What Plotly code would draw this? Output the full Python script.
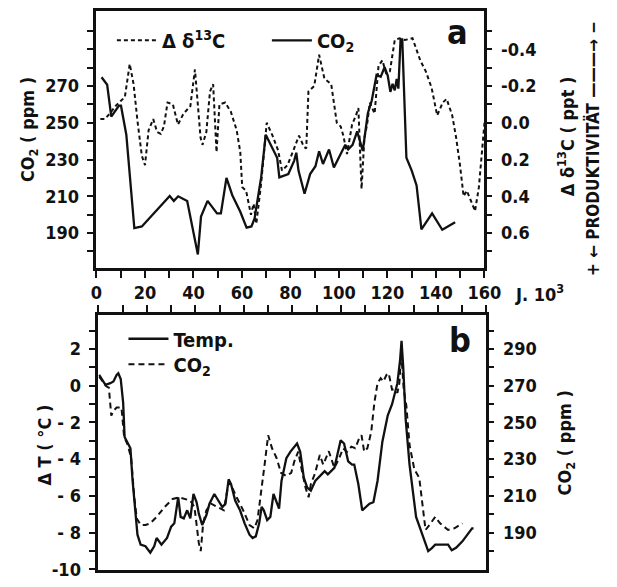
import plotly.graph_objects as go

W, H = 617, 587

# ---------------- Panel a data ----------------
co2_a_age = [2.1, 4.4, 6.1, 6.9, 9.3, 10.1, 12.3, 15.6, 18.7, 30.2, 31.9, 33.7, 37.4, 41.8, 43.1,
             45.8, 49.7, 51.3, 53.6, 56.0, 59.3, 61.9, 63.9, 65.2, 67.9, 69.8, 72.5, 74.5, 75.4,
             79.1, 81.5, 82.4, 83.3, 85.8, 88.1, 90.3, 91.8, 93.4, 95.9, 97.9, 102.6, 103.8,
             105.6, 107.5, 109.8, 111.9, 113.5, 115.5, 117.2, 118.8, 120.1, 121.2, 122.1, 123.0,
             123.8, 124.5, 125.4, 126.1, 127.8, 130.0, 132.0, 134.0, 138.4, 142.6, 147.9]
co2_a_ppm = [274.8, 270.7, 253.4, 255.0, 259.3, 259.3, 243.5, 192.7, 193.6, 210.2, 207.5, 210.0,
             207.5, 178.4, 199.0, 207.5, 200.7, 200.7, 220.0, 210.6, 201.6, 193.0, 193.6, 198.0,
             220.3, 243.5, 236.4, 231.0, 220.3, 222.1, 229.3, 233.7, 224.0, 211.4, 222.1, 226.4,
             234.5, 227.6, 235.5, 225.7, 238.0, 235.5, 238.0, 245.3, 234.7, 255.2, 262.0, 276.0,
             275.0, 280.2, 275.7, 266.8, 271.2, 267.6, 273.9, 268.6, 295.3, 295.3, 231.0, 224.0,
             215.9, 192.0, 200.7, 191.8, 195.9]

d13c_age = [1.6, 3.4, 5.5, 7.8, 10.1, 11.7, 13.7, 15.3, 16.9, 18.7, 20.0, 21.5, 23.4, 25.0, 26.5,
            27.8, 29.3, 31.5, 33.6, 35.9, 38.7, 39.8, 40.6, 42.9, 43.7, 45.3, 46.8, 48.1, 49.5,
            50.7, 53.1, 55.4, 57.8, 59.3, 60.1, 61.7, 63.7, 64.8, 65.9, 67.9, 70.2, 72.6, 74.9,
            76.5, 78.8, 81.2, 83.5, 85.5, 86.5, 87.4, 89.8, 91.8, 94.0, 96.8, 99.1, 100.7, 101.8,
            103.3, 105.4, 107.0, 108.0, 109.3, 110.5, 111.6, 112.7, 114.7, 116.3, 117.9, 119.4,
            121.0, 123.0, 124.9, 127.2, 130.3, 133.5, 135.8, 138.2, 140.5, 142.8, 144.4, 146.7,
            148.3, 149.9, 151.4, 152.7, 154.9, 156.1, 157.7, 160.0]
d13c_val = [-0.02, -0.02, -0.05, -0.09, -0.12, -0.14, -0.32, -0.21, -0.01, 0.18, 0.23, 0.04, -0.02,
            0.05, 0.06, 0.02, -0.11, -0.10, 0.01, -0.05, -0.09, -0.20, -0.29, 0.08, 0.12, 0.05,
            -0.17, -0.21, 0.16, -0.10, -0.11, -0.06, 0.04, 0.16, 0.35, 0.37, 0.50, 0.44, 0.55,
            0.33, 0.00, 0.07, 0.15, 0.26, 0.23, 0.15, 0.07, 0.13, 0.14, -0.17, -0.20, -0.37,
            -0.24, -0.21, 0.00, 0.02, 0.07, 0.17, 0.01, -0.04, -0.08, 0.36, 0.08, 0.01, -0.11,
            -0.05, -0.31, -0.34, -0.27, -0.28, -0.45, -0.46, -0.45, -0.46, -0.34, -0.28, -0.19,
            -0.04, -0.11, -0.13, -0.04, 0.08, 0.23, 0.40, 0.37, 0.44, 0.48, 0.35, 0.00]

# ---------------- Panel b data ----------------
temp_age = [0.3, 2.9, 4.9, 6.2, 7.5, 8.2, 9.2, 10.2, 10.8, 12.1, 13.2, 14.1, 15.0, 16.1, 17.4,
            19.4, 21.4, 23.0, 24.0, 25.1, 26.0, 28.3, 30.0, 31.3, 32.3, 32.9, 33.9, 35.2, 36.6,
            37.9, 39.2, 40.5, 41.4, 42.8, 44.5, 45.8, 47.8, 49.1, 51.1, 52.4, 53.7, 54.7, 56.4,
            58.4, 60.3, 62.3, 63.6, 64.9, 66.3, 67.3, 68.2, 69.6, 70.9, 72.2, 73.5, 74.5, 75.5,
            77.5, 79.2, 80.8, 81.9, 83.2, 84.7, 86.1, 87.6, 89.4, 91.4, 93.3, 94.6, 97.3, 99.9,
            101.3, 103.0, 104.6, 105.5, 107.2, 108.8, 110.1, 111.8, 113.4, 115.1, 117.1, 119.3,
            121.1, 122.4, 123.3, 124.4, 125.0, 125.7, 126.7, 128.3, 129.9, 131.0, 132.9, 134.7,
            136.0, 137.5, 138.9, 141.5, 144.2, 145.7, 147.5, 150.1, 152.1, 154.1, 154.7]
temp_val = [0.59, 0.05, 0.14, 0.23, 0.59, 0.68, 0.36, -0.92, -2.79, -3.15, -3.41, -5.19, -6.61,
            -8.12, -8.66, -8.75, -9.10, -8.75, -8.30, -8.48, -8.66, -8.30, -7.68, -7.50, -6.43,
            -6.08, -7.15, -7.23, -6.79, -7.23, -5.90, -6.35, -6.97, -7.59, -7.06, -6.43, -5.90,
            -6.17, -6.61, -6.43, -5.10, -5.37, -6.26, -6.79, -7.50, -8.12, -8.30, -8.21, -7.50,
            -6.61, -6.79, -7.32, -7.15, -5.90, -6.35, -6.70, -5.19, -3.95, -3.59, -3.32, -3.15,
            -3.59, -5.01, -5.55, -5.72, -5.19, -4.92, -4.66, -4.83, -4.48, -2.97, -3.15, -4.12,
            -4.30, -4.30, -5.37, -6.79, -6.61, -6.43, -6.35, -5.19, -3.05, -1.63, -1.01, -0.39,
            0.14, 1.39, 2.45, 1.03, -1.81, -4.30, -5.90, -7.15, -7.86, -8.57, -9.01, -8.85,
            -8.66, -8.66, -8.66, -8.97, -8.83, -8.48, -8.12, -7.77, -7.77]

co2_b_age = [0.3, 1.6, 3.2, 4.3, 5.3, 6.2, 7.5, 9.5, 10.6, 12.1, 13.5, 14.8, 15.8, 17.4, 19.4,
             21.4, 24.0, 27.3, 30.6, 33.3, 35.9, 37.9, 39.6, 40.5, 41.4, 42.2, 43.2, 44.5, 46.5,
             49.1, 51.7, 53.7, 55.0, 57.0, 59.7, 62.3, 64.3, 65.6, 67.3, 68.7, 70.0, 71.6, 73.5,
             75.3, 77.5, 79.5, 80.8, 82.4, 83.4, 85.4, 86.7, 87.6, 89.4, 91.3, 92.7, 95.0, 97.3,
             99.3, 100.9, 102.5, 104.3, 105.9, 107.5, 108.5, 109.6, 110.9, 112.5, 113.8, 115.1,
             116.4, 117.5, 118.8, 119.7, 121.1, 122.3, 123.3, 124.1, 124.9, 125.9, 127.0, 128.3,
             130.3, 132.3, 133.6, 134.9, 136.5, 138.9, 140.9, 144.2, 146.8, 150.1]
co2_b_ppm = [275.0, 272.3, 269.7, 269.0, 253.7, 256.3, 258.1, 258.1, 242.1, 237.7, 230.5, 209.2,
             197.7, 194.1, 194.1, 195.0, 198.5, 203.9, 208.3, 209.2, 208.3, 207.4, 203.9, 195.0,
             184.3, 179.9, 195.0, 202.1, 205.7, 203.9, 202.1, 217.2, 215.0, 209.2, 202.1, 194.1,
             192.3, 196.8, 212.8, 228.8, 243.0, 235.9, 230.5, 222.5, 220.8, 222.5, 228.8, 234.1,
             227.0, 214.5, 209.2, 216.3, 222.5, 232.3, 227.0, 234.3, 225.2, 230.5, 235.9, 234.0,
             236.8, 235.9, 241.2, 243.0, 234.1, 235.9, 244.8, 260.8, 271.4, 274.1, 272.3, 275.9,
             276.8, 267.9, 268.0, 266.1, 271.4, 287.4, 267.9, 259.0, 237.7, 224.3, 219.9, 205.7,
             191.4, 194.1, 198.5, 195.0, 191.4, 192.3, 195.0]

# axis tick values / labels
x_ticks = list(range(0, 161, 20))
ya_ticks = list(range(190, 271, 20))
ya_minor = list(range(180, 301, 10))
yd_ticks = [-0.4, -0.2, 0.0, 0.2, 0.4, 0.6]
yd_text = ["-0.4", "-0.2", "0.0", "0.2", "0.4", "0.6"]
yd_minor = [-0.5, -0.4, -0.3, -0.2, -0.1, 0.0, 0.1, 0.2, 0.3, 0.4, 0.5, 0.6, 0.7]
yt_ticks = [2, 0, -2, -4, -6, -8, -10]
yt_text = ["2", "0", "- 2", "- 4", "- 6", "- 8", "-10"]
yt_minor = [3, 1, -1, -3, -5, -7, -9]
yc_ticks = [190, 210, 230, 250, 270, 290]
yc_minor = [180, 200, 220, 240, 260, 280, 300]

FONT = "DejaVu Sans Condensed, DejaVu Sans"
BLK = "#111111"
WEIGHT = "bold"


def px(x):
    return x / W


def py(y):
    return 1 - y / H


fig = go.Figure()

fig.add_trace(go.Scatter(x=d13c_age, y=d13c_val, mode="lines", xaxis="x", yaxis="y2",
                         line=dict(color=BLK, width=2, dash="4px,3px"),
                         name="\u0394 \u03b4<sup>13</sup>C", legend="legend"))
fig.add_trace(go.Scatter(x=co2_a_age, y=co2_a_ppm, mode="lines", xaxis="x", yaxis="y",
                         line=dict(color=BLK, width=2.3), name="CO<sub>2</sub>", legend="legend"))
fig.add_trace(go.Scatter(x=temp_age, y=temp_val, mode="lines", xaxis="x2", yaxis="y3",
                         line=dict(color=BLK, width=2.3), name="Temp.", legend="legend2"))
fig.add_trace(go.Scatter(x=co2_b_age, y=co2_b_ppm, mode="lines", xaxis="x2", yaxis="y4",
                         line=dict(color=BLK, width=2, dash="6px,4px"),
                         name="CO<sub>2</sub>", legend="legend3"))

tickfont = dict(family=FONT, size=18, color=BLK, weight=WEIGHT)
axis_common = dict(showgrid=False, zeroline=False, color=BLK, tickfont=tickfont,
                   ticks="outside", ticklen=7, tickwidth=2, tickcolor=BLK,
                   ticklabeloverflow="allow")
minor_common = dict(ticks="outside", ticklen=7, tickwidth=2, tickcolor=BLK)

xa_dom = [px(94), px(497)]
ya_dom = [py(272), py(11)]
xb_dom = [px(96), px(499)]
yb_dom = [py(579), py(320)]

co2a_range = [171.1, 310.9]
d_range = [(250 - co2a_range[0]) / 100, (250 - co2a_range[1]) / 100]
t_range = [-10.05, 3.85]
co2b_range = [270 + 10 * t_range[0], 270 + 10 * t_range[1]]

legfont = dict(family=FONT, size=20, color=BLK, weight=WEIGHT)

fig.update_layout(
    width=W, height=H, margin=dict(l=0, r=0, t=0, b=0),
    paper_bgcolor="white", plot_bgcolor="white",
    font=dict(family=FONT, color=BLK, size=18, weight=WEIGHT),
    xaxis=dict(domain=xa_dom, anchor="y", range=[0, 160], tickvals=x_ticks,
               minor=dict(dtick=10, tick0=0, **minor_common),
               showline=True, linewidth=2.8, linecolor=BLK, mirror=True, **axis_common),
    yaxis=dict(domain=ya_dom, anchor="x", range=co2a_range, tickvals=ya_ticks,
               minor=dict(tickvals=ya_minor, **minor_common), ticklabelstandoff=4,
               showline=True, linewidth=2.8, linecolor=BLK, mirror=True, **axis_common),
    yaxis2=dict(overlaying="y", side="right", anchor="x", range=d_range,
                tickvals=yd_ticks, ticktext=yd_text, ticklabelstandoff=5,
                minor=dict(tickvals=yd_minor, **minor_common),
                showline=False, **axis_common),
    xaxis2=dict(domain=xb_dom, anchor="y3", side="top", range=[0, 160], dtick=10,
                showticklabels=False,
                showline=True, linewidth=2.8, linecolor=BLK, mirror=True, **axis_common),
    yaxis3=dict(domain=yb_dom, anchor="x2", range=t_range, tickvals=yt_ticks, ticktext=yt_text,
                minor=dict(tickvals=yt_minor, **minor_common), ticklabelstandoff=4,
                showline=True, linewidth=2.8, linecolor=BLK, mirror=True, **axis_common),
    yaxis4=dict(overlaying="y3", side="right", anchor="x2", range=co2b_range,
                tickvals=yc_ticks, ticklabelstandoff=5,
                minor=dict(tickvals=yc_minor, **minor_common),
                showline=False, **axis_common),
    legend=dict(orientation="h", x=px(110), y=py(41), xanchor="left", yanchor="middle",
                bgcolor="rgba(0,0,0,0)", font=legfont,
                itemwidth=40, tracegroupgap=0, entrywidthmode="pixels", entrywidth=100),
    legend2=dict(orientation="v", x=px(122), y=py(344), xanchor="left", yanchor="middle",
                 bgcolor="rgba(0,0,0,0)", font=legfont, itemwidth=40),
    legend3=dict(orientation="v", x=px(122), y=py(370), xanchor="left", yanchor="middle",
                 bgcolor="rgba(0,0,0,0)", font=legfont, itemwidth=40),
    showlegend=True,
)

ann = []


def text(x, y, s, size=18, angle=0, xanchor="center", yanchor="middle"):
    ann.append(dict(x=px(x), y=py(y), xref="paper", yref="paper", text=s, showarrow=False,
                    textangle=angle, xanchor=xanchor, yanchor=yanchor,
                    font=dict(family=FONT, size=size, color=BLK, weight=WEIGHT)))


text(24, 132, "CO<sub>2</sub> ( ppm )", 18, -90)
text(582, 138, "\u0394 \u03b4<sup>13</sup>C ( ppt )", 18, -90)
text(609, 151, "+ \u2190 PRODUKTIVITÄT \u2014\u2014\u2014\u2192 \u2212", 17, -90)
text(527, 298, "J. 10<sup>3</sup>", 18, 0, xanchor="left")
text(469, 33, "a", 34, 0)
text(472, 345, "b", 34, 0)
text(40, 452, "\u0394 T ( °C )", 18, -90)
text(582, 450, "CO<sub>2</sub> ( ppm )", 18, -90)
fig.update_layout(annotations=ann)

fig.write_html("out.html", config={"displayModeBar": False},
               post_script="document.body.style.margin='0';document.body.style.overflow='hidden';")
